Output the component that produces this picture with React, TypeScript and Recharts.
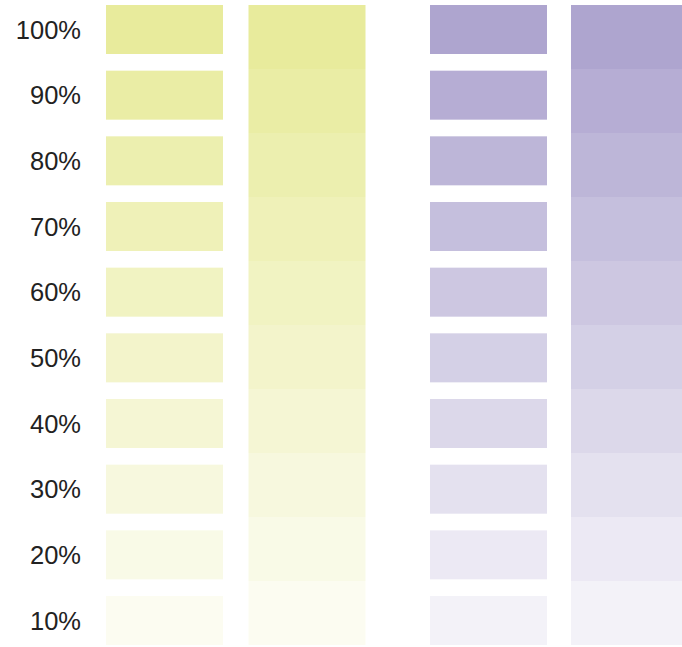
import React from 'react';
import { BarChart, Bar, XAxis, YAxis } from 'recharts';

// Level labels, top to bottom
const levelLabels = ['100%', '90%', '80%', '70%', '60%', '50%', '40%', '30%', '20%', '10%'];
// Level values, bottom to top (stack order)
const levelValues = [10, 20, 30, 40, 50, 60, 70, 80, 90, 100];
// Each level takes an equal share of the column
const levelShares = [1, 1, 1, 1, 1, 1, 1, 1, 1, 1];

const yellowColumns = ['solid', 'stacked'];
const purpleColumns = ['solid', 'stacked'];

const YELLOW = '#e8eb9c';
const PURPLE = '#aea5cf';
const SWATCH = 49 / 64; // swatch height relative to a band

const buildRows = (cols: string[]) =>
  cols.map((col) => {
    const row: Record<string, any> = { col };
    levelValues.forEach((v, i) => {
      row['l' + v] = levelShares[i];
    });
    return row;
  });

const yellowData = buildRows(yellowColumns);
const purpleData = buildRows(purpleColumns);

const n = levelShares.length;
const total = levelShares.reduce((a, b) => a + b, 0);
const swH = (total / n) * SWATCH;
const step = (total - swH) / (n - 1);
const tickVals = levelLabels.map((_, k) => total - (k * step + swH / 2));
const tickFmt = (v: number) => {
  const k = Math.round((total - v - swH / 2) / step);
  return levelLabels[k] ?? '';
};

const opacityFor = (v: number) => 0.05 + 0.95 * (v / 100);

const makeShape = (k: number, color: string, op: number) => (props: any) => {
  const { x, y, width, height, payload } = props;
  if (payload && payload.col === 'solid') {
    const H = height * n;
    const T = y - k * height;
    const h = height * SWATCH;
    const st = (H - h) / (n - 1);
    const top = T + k * st;
    return <rect x={x} y={top} width={width} height={h} fill={color} fillOpacity={op} />;
  }
  return <rect x={x} y={y} width={width} height={height} fill={color} fillOpacity={op} />;
};

const renderBars = (color: string) =>
  levelValues.map((v, j) => {
    const k = levelValues.length - 1 - j;
    const op = opacityFor(v);
    return (
      <Bar
        key={v}
        dataKey={'l' + v}
        stackId="s"
        fill={color}
        fillOpacity={op}
        isAnimationActive={false}
        shape={makeShape(k, color, op)}
      />
    );
  });

export default function App() {
  return (
    <div
      style={{
        position: 'absolute',
        left: 0,
        top: 0,
        width: 682,
        height: 647,
        overflow: 'hidden',
        background: '#fff',
      }}
    >
      <div style={{ position: 'absolute', left: 0, top: 0 }}>
        <BarChart
          width={378}
          height={647}
          data={yellowData}
          margin={{ top: 5, right: 0, bottom: 2, left: 0 }}
          barSize={117}
        >
          <XAxis dataKey="col" type="category" hide />
          <YAxis
            type="number"
            domain={[0, total]}
            ticks={tickVals}
            interval={0}
            tickFormatter={tickFmt}
            width={93}
            axisLine={false}
            tickLine={false}
            tickSize={0}
            tickMargin={12}
            tick={{ fontSize: 25.5, fill: '#222', fontFamily: 'Liberation Sans, Arial, sans-serif' }}
          />
          {renderBars(YELLOW)}
        </BarChart>
      </div>
      <div style={{ position: 'absolute', left: 418, top: 0 }}>
        <BarChart
          width={282}
          height={647}
          data={purpleData}
          margin={{ top: 5, right: 0, bottom: 2, left: 0 }}
          barSize={117}
        >
          <XAxis dataKey="col" type="category" hide />
          <YAxis type="number" domain={[0, total]} hide />
          {renderBars(PURPLE)}
        </BarChart>
      </div>
    </div>
  );
}
